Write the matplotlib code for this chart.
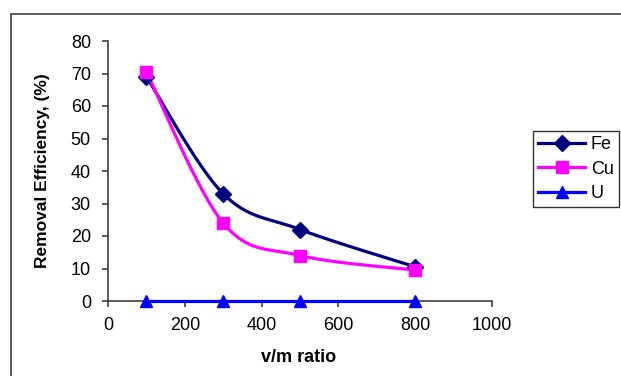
import numpy as np
import matplotlib
matplotlib.use("Agg")
import matplotlib.pyplot as plt
from matplotlib.patches import Rectangle

plt.rcParams["font.family"] = ["Liberation Sans", "DejaVu Sans"]

ratio = [100, 300, 500, 800]
fe = [69, 33, 22, 10.5]
cu = [70.5, 24, 14, 9.5]
u = [0, 0, 0, 0]

XMAX, YMAX = 1000, 80
AX_W, AX_H = 3.84, 2.60  # axes size in inches, used for the smoothing


def smooth(xs, ys, n=40):
    # Excel-like smoothed line: cubic Bezier through points, tension 1/6,
    # computed in screen-like units so both axes count equally
    px = np.array(xs, float) / XMAX * AX_W
    py = np.array(ys, float) / YMAX * AX_H
    pts = np.column_stack([px, py])
    ext = np.vstack([pts[0], pts, pts[-1]])
    out = [pts[0]]
    t = np.linspace(0, 1, n)[1:, None]
    for i in range(len(pts) - 1):
        p0, p1, p2, p3 = ext[i], ext[i + 1], ext[i + 2], ext[i + 3]
        c1 = p1 + (p2 - p0) / 6
        c2 = p2 - (p3 - p1) / 6
        seg = ((1 - t) ** 3) * p1 + 3 * ((1 - t) ** 2) * t * c1 + 3 * (1 - t) * t ** 2 * c2 + t ** 3 * p2
        out.extend(seg)
    out = np.array(out)
    return out[:, 0] / AX_W * XMAX, out[:, 1] / AX_H * YMAX


fig = plt.figure(figsize=(6.21, 3.76), dpi=100)
ax = fig.add_axes([108 / 621, 75 / 376, AX_W / 6.21, AX_H / 3.76])

series = [
    ("Fe", fe, "#000080", "D", 8),
    ("Cu", cu, "#FF00FF", "s", 8.5),
    ("U", u, "#0000FF", "^", 9),
]
for name, vals, col, mk, ms in series:
    sx, sy = smooth(ratio, vals)
    ax.plot(sx, sy, color=col, lw=2.3, zorder=3, clip_on=False)
    ax.plot(ratio, vals, ls="none", marker=mk, ms=ms, color=col, zorder=4, clip_on=False)
    ax.plot([], [], color=col, lw=2.3, marker=mk, ms=ms, label=name)

ax.set_xlim(0, XMAX)
ax.set_ylim(0, YMAX)
ax.set_xticks(range(0, 1001, 200))
ax.set_yticks(range(0, 81, 10))
ax.spines["top"].set_visible(False)
ax.spines["right"].set_visible(False)
for s in ("left", "bottom"):
    ax.spines[s].set_color("#404040")
    ax.spines[s].set_linewidth(1.2)
ax.tick_params(direction="out", length=4.3, width=1.2, color="#404040",
               labelsize=13)
ax.tick_params(axis="y", pad=8)
ax.tick_params(axis="x", pad=7)
ax.set_xlabel("v/m ratio", fontsize=13, fontweight="bold", va="center")
ax.xaxis.set_label_coords(0.497, (301 - 357) / 260)
ax.set_ylabel("Removal Efficiency, (%)", fontsize=12.5, fontweight="bold", va="center")
ax.yaxis.set_label_coords((43 - 108) / 384, 0.5)

leg = fig.legend(loc="upper left", bbox_to_anchor=(533 / 621, (376 - 131) / 376),
                 fontsize=13, frameon=True, fancybox=False,
                 handlelength=2.6, handletextpad=0.3, borderpad=0.3,
                 labelspacing=0.4, borderaxespad=0)
leg.get_frame().set_edgecolor("black")
leg.get_frame().set_linewidth(1.0)

fig.patches.append(Rectangle((11 / 621, -0.1), 1.2, (376 - 14) / 376 + 0.1,
                             transform=fig.transFigure, fill=False,
                             edgecolor="#404040", lw=1.2))

fig.savefig("out.png", dpi=100)
